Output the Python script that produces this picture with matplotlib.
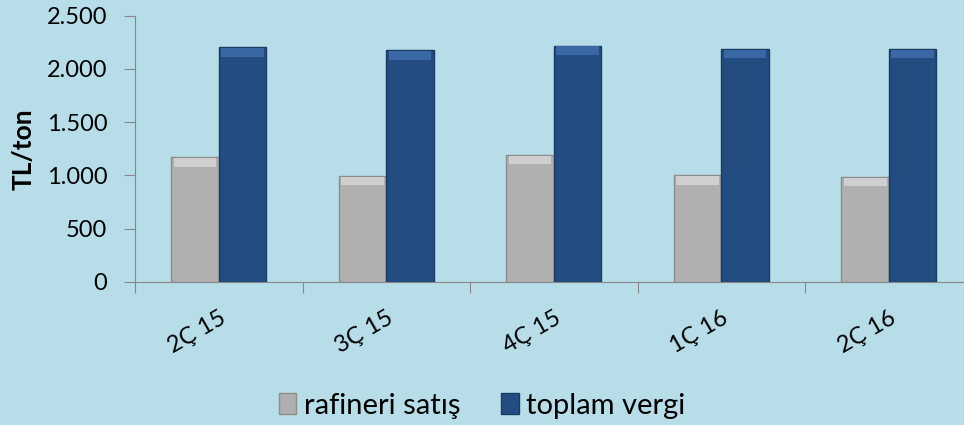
import numpy as np
import matplotlib.pyplot as plt
from matplotlib.ticker import FuncFormatter

# data
quarters = ['2Ç 15', '3Ç 15', '4Ç 15', '1Ç 16', '2Ç 16']
rafineri = [1168, 997, 1194, 1000, 985]
vergi = [2200, 2172, 2218, 2185, 2185]

bg = '#b7dde8'
plt.rcParams['font.family'] = ['Lato', 'DejaVu Sans']

fig = plt.figure(figsize=(9.64, 4.25), dpi=100)
fig.patch.set_facecolor(bg)
ax = fig.add_axes([0.140, 0.3365, 0.869, 0.627])
ax.set_facecolor(bg)

x = np.arange(len(quarters))
w = 0.283
ax.bar(x - w / 2, rafineri, w, color='#b0b0b0', edgecolor='#8c8c8c', linewidth=1.0,
       label='rafineri satış', zorder=3)
ax.bar(x + w / 2, vergi, w, color='#234c80', edgecolor='#1a3a63', linewidth=1.0,
       label='toplam vergi', zorder=3)
# lighter band at the top of each bar (bevel look)
band = 80
ax.bar(x - w / 2, band, w * 0.9, bottom=np.array(rafineri) - band - 8,
       color='#cfcfcf', linewidth=0, zorder=4)
ax.bar(x + w / 2, band, w * 0.9, bottom=np.array(vergi) - band - 8,
       color='#3a68a4', linewidth=0, zorder=4)

ax.set_xlim(-0.5, len(quarters) - 0.5)
ax.set_ylim(0, 2500)
ax.set_yticks(range(0, 2501, 500))
ax.yaxis.set_major_formatter(FuncFormatter(lambda v, p: f'{int(v):,}'.replace(',', '.')))
ax.set_ylabel('TL/ton', fontsize=19, fontweight='bold', labelpad=8)

# category ticks between groups, labels at centres
ax.set_xticks(np.arange(-0.5, len(quarters), 1.0))
ax.set_xticklabels([])
ax.set_xticks(x, minor=True)
ax.set_xticklabels(quarters, minor=True, rotation=30, ha='right',
                   rotation_mode='anchor', fontsize=17)
ax.tick_params(axis='x', which='minor', length=0, pad=18)
ax.tick_params(axis='x', which='major', length=8, color='#888888')
ax.tick_params(axis='y', length=8, color='#888888', labelsize=17, pad=12)

for s in ['top', 'right']:
    ax.spines[s].set_visible(False)
for s in ['left', 'bottom']:
    ax.spines[s].set_color('#888888')

leg = fig.legend(loc='center', bbox_to_anchor=(0.5, 0.045), ncol=2, frameon=False,
                 fontsize=21, handlelength=0.6, handleheight=0.7, handletextpad=0.25,
                 columnspacing=1.4)

fig.savefig('out.png', dpi=100, facecolor=bg)
